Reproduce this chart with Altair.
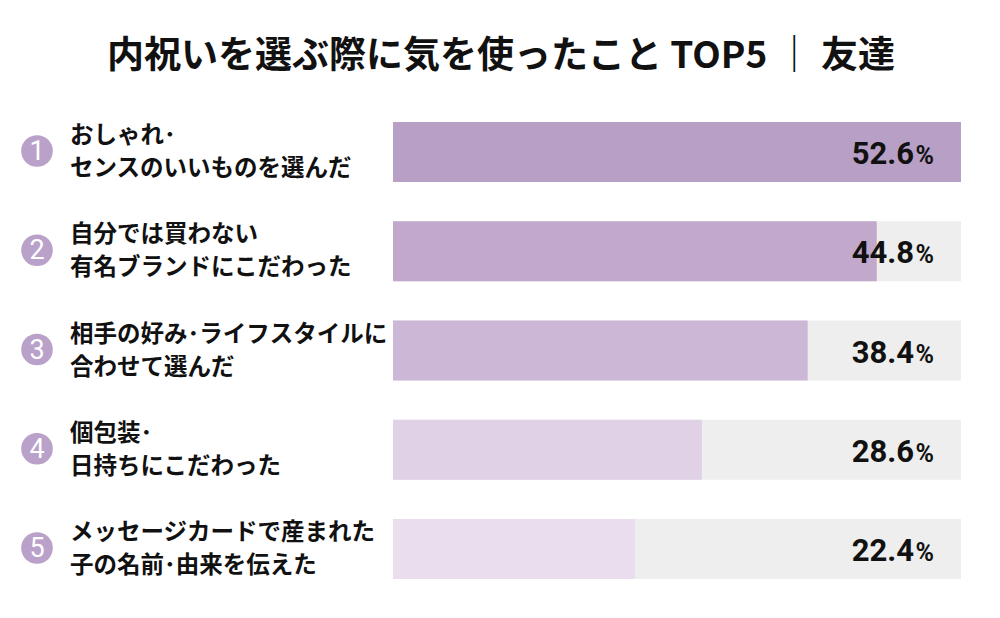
import altair as alt
import pandas as pd

# Survey result: top-5 things people cared about when choosing return gifts (friends)
ranks = [1, 2, 3, 4, 5]
line1 = ["おしゃれ･", "自分では買わない", "相手の好み･ライフスタイルに", "個包装･", "メッセージカードで産まれた"]
line2 = ["センスのいいものを選んだ", "有名ブランドにこだわった", "合わせて選んだ", "日持ちにこだわった", "子の名前･由来を伝えた"]
values = [52.6, 44.8, 38.4, 28.6, 22.4]
bar_colors = ["#b89fc5", "#c2a9cc", "#ccb7d6", "#e0d1e6", "#e9ddee"]

TITLE = "内祝いを選ぶ際に気を使ったこと TOP5 ｜ 友達"
JP_FONT = "Noto Sans CJK JP"
NUM_FONT = "Roboto"
X_MAX = max(values)

df = pd.DataFrame({
    "rank": ranks,
    "line1": line1,
    "line2": line2,
    "value": values,
    "label": [f"{v:.1f}" for v in values],
    "full": [X_MAX] * len(ranks),
    "zero": [0] * len(ranks),
})

xs = alt.Scale(domain=[0, X_MAX], range=[393, 961])
ys = alt.Scale(domain=ranks, range=[122, 579], paddingInner=0.395, paddingOuter=0)
y_enc = alt.Y("rank:O", scale=ys, axis=None)
color_scale = alt.Scale(domain=ranks, range=bar_colors)

base = alt.Chart(df)

track = base.mark_bar(color="#eeeeee", cornerRadius=0).encode(
    x=alt.X("zero:Q", scale=xs, axis=None),
    x2="full:Q",
    y=y_enc,
)

bars = base.mark_bar(cornerRadius=0).encode(
    x=alt.X("zero:Q", scale=xs, axis=None),
    x2="value:Q",
    y=y_enc,
    color=alt.Color("rank:O", scale=color_scale, legend=None),
)

badge = base.mark_circle(size=1000, opacity=1, color="#b9a1c9", yOffset=-1).encode(
    x=alt.value(37),
    y=y_enc,
)

badge_num = base.mark_text(
    font=NUM_FONT, fontSize=27, fontWeight="normal", color="white",
    align="center", baseline="middle", dy=0,
).encode(x=alt.value(37), y=y_enc, text="rank:N")

lab1 = base.mark_text(
    font=JP_FONT, fontSize=23.5, fontWeight="bold", color="#111111",
    align="left", baseline="middle", dy=-16,
).encode(x=alt.value(70), y=y_enc, text="line1:N")

lab2 = base.mark_text(
    font=JP_FONT, fontSize=23.5, fontWeight="bold", color="#111111",
    align="left", baseline="middle", dy=17,
).encode(x=alt.value(70), y=y_enc, text="line2:N")

num = base.mark_text(
    font=NUM_FONT, fontSize=31, fontWeight="bold", color="#111111",
    align="right", baseline="alphabetic", dx=-47, dy=12,
).encode(x=alt.X("full:Q", scale=xs), y=y_enc, text="label:N")

pct = base.mark_text(
    font=NUM_FONT, fontSize=25, fontWeight="bold", color="#111111",
    align="right", baseline="alphabetic", dx=-27, dy=12,
).encode(x=alt.X("full:Q", scale=xs), y=y_enc, text=alt.value("%"))

title = alt.Chart(pd.DataFrame({"t": [TITLE]})).mark_text(
    font=JP_FONT, fontSize=37, fontWeight="bold", color="#111111",
    align="center", baseline="middle",
).encode(x=alt.value(501), y=alt.value(57), text="t:N")

chart = alt.layer(track, bars, badge, badge_num, lab1, lab2, num, pct, title).properties(
    width=1000, height=618, padding=0,
    autosize=alt.AutoSizeParams(type="none"),
    background="white",
).configure_view(stroke=None)

chart.save("out.html", embed_options={"renderer": "svg", "actions": False})
